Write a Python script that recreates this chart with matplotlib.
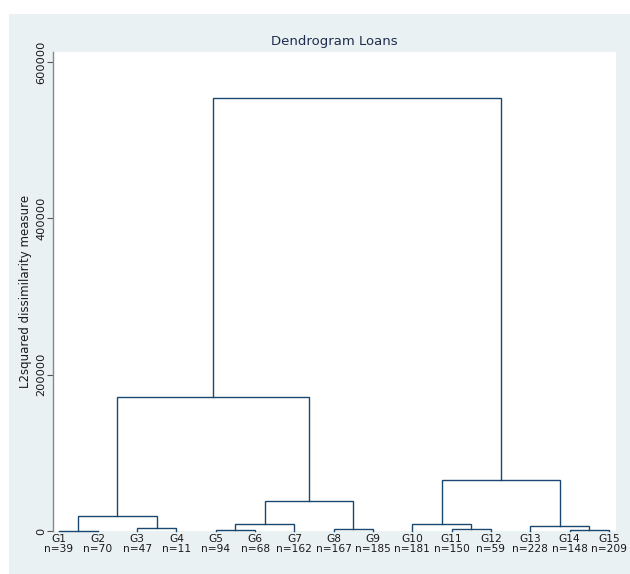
import numpy as np
import matplotlib.pyplot as plt
import matplotlib as mpl
from matplotlib.patches import Rectangle

mpl.rc('figure', figsize=(6.3, 5.74), dpi=100)

# leaves
groups = ['G1', 'G2', 'G3', 'G4', 'G5', 'G6', 'G7', 'G8', 'G9', 'G10',
          'G11', 'G12', 'G13', 'G14', 'G15']
sizes = [39, 70, 47, 11, 94, 68, 162, 167, 185, 181, 150, 59, 228, 148, 209]

# merges: (left node, right node, height); new nodes numbered from 15
merge_left = [0, 2, 15, 4, 18, 7, 19, 17, 10, 9, 13, 12, 24, 22]
merge_right = [1, 3, 16, 5, 6, 8, 20, 21, 11, 23, 14, 25, 26, 27]
merge_height = [500, 3400, 19200, 1300, 8500, 2600, 38000, 171500,
                3000, 9000, 900, 6800, 65300, 553700]

line_col = '#1a476f'
bg_col = '#eaf1f3'

fig = plt.figure(facecolor='white')
fig.patches.append(Rectangle((9 / 630, 0), 621 / 630, 560 / 574,
                             transform=fig.transFigure, facecolor=bg_col,
                             edgecolor='none', zorder=-10))
ax = fig.add_axes([53 / 630, 43 / 574, 563 / 630, 479 / 574])
ax.set_facecolor('white')

xpos = {i: i + 1 for i in range(len(groups))}
ypos = {i: 0 for i in range(len(groups))}
for k, (l, r, h) in enumerate(zip(merge_left, merge_right, merge_height)):
    node = len(groups) + k
    ax.plot([xpos[l], xpos[l], xpos[r], xpos[r]], [ypos[l], h, h, ypos[r]],
            color=line_col, lw=1.0, solid_joinstyle='miter', clip_on=False)
    xpos[node] = (xpos[l] + xpos[r]) / 2
    ypos[node] = h

ax.set_xlim(0.86, 15.18)
ax.set_ylim(0, 612800)

ax.set_xticks(np.arange(1, len(groups) + 1))
ax.set_xticklabels([f'{g}\nn={n}' for g, n in zip(groups, sizes)],
                   fontsize=7.7, linespacing=0.98, color='#1a1a1a')
ax.tick_params(axis='x', length=0, pad=2)

ax.set_yticks([0, 200000, 400000, 600000])
ax.set_yticklabels(['0', '200000', '400000', '600000'], rotation=90,
                   va='center', fontsize=8.2, color='#1a1a1a')
ax.tick_params(axis='y', length=4, width=0.8, color='#555555', pad=1)
ax.set_ylabel('L2squared dissimilarity measure', fontsize=8.5,
              color='#1a1a1a', va='center')
ax.yaxis.set_label_coords(-27 / 563, 0.5)

for s in ['top', 'right', 'bottom']:
    ax.spines[s].set_visible(False)
ax.spines['left'].set_color('#888888')
ax.spines['left'].set_linewidth(1.0)

ax.set_title('Dendrogram Loans', fontsize=9.5, color='#1e2d4f', pad=5)

plt.savefig('out.png', dpi=100)
